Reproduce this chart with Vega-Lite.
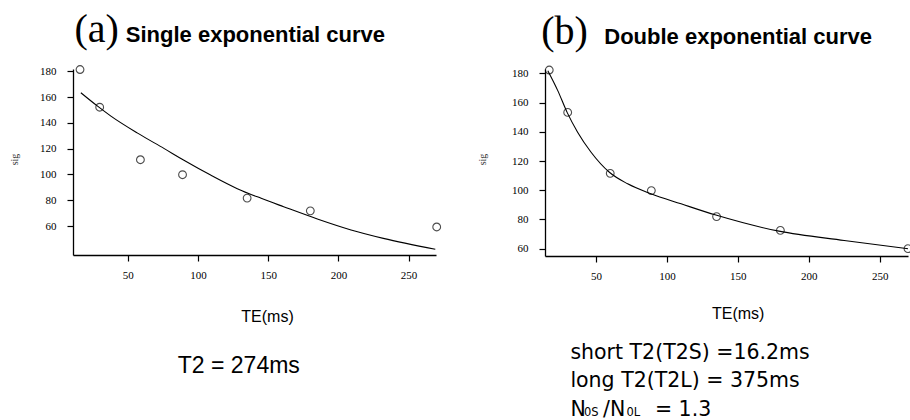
{
  "$schema": "https://vega.github.io/schema/vega-lite/v6.json",
  "background": "white",
  "padding": {"left": 9, "top": 10, "right": 0, "bottom": 0},
  "spacing": 109,
  "bounds": "flush",
  "config": {
    "view": {"stroke": null},
    "axis": {
      "grid": false,
      "domainColor": "black",
      "domainWidth": 1.3,
      "tickColor": "black",
      "tickWidth": 1.2,
      "tickSize": 6,
      "labelColor": "black",
      "labelFont": "Liberation Serif",
      "labelFontSize": 11,
      "labelOverlap": false,
      "titleColor": "black"
    }
  },
  "datasets": {
    "pointsA": [
      {"TE": 16, "SI": 181.3}, {"TE": 30, "SI": 152.1}, {"TE": 59, "SI": 111.4},
      {"TE": 89, "SI": 99.8}, {"TE": 135, "SI": 81.7}, {"TE": 180, "SI": 71.8}, {"TE": 270, "SI": 59.3}
    ],
    "pointsB": [
      {"TE": 17, "SI": 182.3}, {"TE": 30, "SI": 153.3}, {"TE": 60, "SI": 111.6},
      {"TE": 89, "SI": 99.8}, {"TE": 135, "SI": 82.0}, {"TE": 180, "SI": 72.5}, {"TE": 270, "SI": 60.0}
    ],
    "fitSingle": [
      {"TE": 16.6, "SI": 163.3}, {"TE": 28.5, "SI": 152.9}, {"TE": 38, "SI": 145.2},
      {"TE": 57, "SI": 132.0}, {"TE": 76, "SI": 120.0}, {"TE": 90, "SI": 111.0},
      {"TE": 109, "SI": 99.5}, {"TE": 128, "SI": 89.0}, {"TE": 145, "SI": 81.5},
      {"TE": 161, "SI": 75.0}, {"TE": 185, "SI": 65.5}, {"TE": 209, "SI": 57.0},
      {"TE": 232, "SI": 50.5}, {"TE": 269, "SI": 42.0}
    ],
    "fitDouble": [
      {"TE": 16, "SI": 181.8}, {"TE": 23, "SI": 168.2}, {"TE": 29.6, "SI": 153.3},
      {"TE": 37, "SI": 139.7}, {"TE": 46.5, "SI": 126.0}, {"TE": 59.4, "SI": 112.3},
      {"TE": 72.3, "SI": 104.4}, {"TE": 88.7, "SI": 97.6}, {"TE": 110, "SI": 90.7},
      {"TE": 134.5, "SI": 83.0}, {"TE": 179, "SI": 72.0}, {"TE": 225, "SI": 65.6},
      {"TE": 270, "SI": 60.0}
    ]
  },
  "hconcat": [
    {
      "width": 363,
      "height": 186,
      "layer": [
        {
          "data": {"name": "fitSingle"},
          "mark": {"type": "line", "color": "black", "strokeWidth": 1.1, "interpolate": "monotone"},
          "encoding": {
            "x": {
              "field": "TE", "type": "quantitative",
              "scale": {"domain": [11, 269.5], "nice": false, "zero": false},
              "axis": {
                "title": "TE(ms)", "values": [50, 100, 150, 200, 250], "labelPadding": 8,
                "titleFont": "Liberation Sans", "titleFontSize": 16, "titleFontWeight": "normal",
                "titleX": 194, "titleY": 66, "titleBaseline": "alphabetic", "titleAlign": "center"
              }
            },
            "y": {
              "field": "SI", "type": "quantitative",
              "scale": {"domain": [37.6, 181.7], "nice": false, "zero": false},
              "axis": {
                "title": "sig", "values": [60, 80, 100, 120, 140, 160, 180], "tickCount": 7, "labelOverlap": false, "labelPadding": 11,
                "titleFont": "Liberation Serif", "titleFontSize": 10, "titleFontWeight": "normal", "titleColor": "#333333",
                "titleX": -58.5, "titleY": 90, "titleBaseline": "middle", "titleAlign": "center", "titleAngle": -90
              }
            }
          }
        },
        {
          "data": {"name": "pointsA"},
          "mark": {"type": "point", "shape": "circle", "filled": false, "color": "black", "size": 60, "strokeWidth": 1.1},
          "encoding": {
            "x": {"field": "TE", "type": "quantitative"},
            "y": {"field": "SI", "type": "quantitative"}
          }
        },
        {
          "data": {"values": [{"t": "(a)"}]},
          "mark": {"type": "text", "font": "Liberation Serif", "fontSize": 40, "align": "left", "baseline": "alphabetic", "color": "black"},
          "encoding": {
            "x": {"datum": 12, "type": "quantitative"},
            "y": {"datum": 202.6, "type": "quantitative"},
            "text": {"field": "t"}
          }
        },
        {
          "data": {"values": [{"t": "Single exponential curve"}]},
          "mark": {"type": "text", "font": "Liberation Sans", "fontWeight": "bold", "fontSize": 22, "align": "left", "baseline": "alphabetic", "color": "black"},
          "encoding": {
            "x": {"datum": 48.6, "type": "quantitative"},
            "y": {"datum": 202.6, "type": "quantitative"},
            "text": {"field": "t"}
          }
        },
        {
          "data": {"values": [{"t": "T2 = 274ms"}]},
          "mark": {"type": "text", "font": "Liberation Sans", "fontSize": 23, "align": "left", "baseline": "alphabetic", "color": "black"},
          "encoding": {
            "x": {"datum": 85.6, "type": "quantitative"},
            "y": {"datum": -54.2, "type": "quantitative"},
            "text": {"field": "t"}
          }
        }
      ]
    },
    {
      "width": 363,
      "height": 187,
      "layer": [
        {
          "data": {"name": "fitDouble"},
          "mark": {"type": "line", "color": "black", "strokeWidth": 1.1, "interpolate": "monotone"},
          "encoding": {
            "x": {
              "field": "TE", "type": "quantitative",
              "scale": {"domain": [14, 270], "nice": false, "zero": false},
              "axis": {
                "title": "TE(ms)", "values": [50, 100, 150, 200, 250], "labelPadding": 8,
                "titleFont": "Liberation Sans", "titleFontSize": 16, "titleFontWeight": "normal",
                "titleX": 192.7, "titleY": 62, "titleBaseline": "alphabetic", "titleAlign": "center"
              }
            },
            "y": {
              "field": "SI", "type": "quantitative",
              "scale": {"domain": [55, 183], "nice": false, "zero": false},
              "axis": {
                "title": "sig", "values": [60, 80, 100, 120, 140, 160, 180], "tickCount": 7, "labelOverlap": false, "labelPadding": 11,
                "titleFont": "Liberation Serif", "titleFontSize": 10, "titleFontWeight": "normal", "titleColor": "#333333",
                "titleX": -62.3, "titleY": 90, "titleBaseline": "middle", "titleAlign": "center", "titleAngle": -90
              }
            }
          }
        },
        {
          "data": {"name": "pointsB"},
          "mark": {"type": "point", "shape": "circle", "filled": false, "color": "black", "size": 60, "strokeWidth": 1.1},
          "encoding": {
            "x": {"field": "TE", "type": "quantitative"},
            "y": {"field": "SI", "type": "quantitative"}
          }
        },
        {
          "data": {"values": [{"t": "(b)"}]},
          "mark": {"type": "text", "font": "Liberation Serif", "fontSize": 40, "align": "left", "baseline": "alphabetic", "color": "black"},
          "encoding": {
            "x": {"datum": 11.3, "type": "quantitative"},
            "y": {"datum": 200.1, "type": "quantitative"},
            "text": {"field": "t"}
          }
        },
        {
          "data": {"values": [{"t": "Double exponential curve"}]},
          "mark": {"type": "text", "font": "Liberation Sans", "fontWeight": "bold", "fontSize": 22, "align": "left", "baseline": "alphabetic", "color": "black"},
          "encoding": {
            "x": {"datum": 55.8, "type": "quantitative"},
            "y": {"datum": 200.1, "type": "quantitative"},
            "text": {"field": "t"}
          }
        },
        {
          "data": {"values": [{"t": "short T2(T2S) =16.2ms"}]},
          "mark": {"type": "text", "font": "DejaVu Sans", "fontSize": 20.5, "align": "left", "baseline": "alphabetic", "color": "black"},
          "encoding": {
            "x": {"datum": 31.9, "type": "quantitative"},
            "y": {"datum": -15.5, "type": "quantitative"},
            "text": {"field": "t"}
          }
        },
        {
          "data": {"values": [{"t": "long T2(T2L) = 375ms"}]},
          "mark": {"type": "text", "font": "DejaVu Sans", "fontSize": 20.5, "align": "left", "baseline": "alphabetic", "color": "black"},
          "encoding": {
            "x": {"datum": 31.9, "type": "quantitative"},
            "y": {"datum": -35, "type": "quantitative"},
            "text": {"field": "t"}
          }
        },
        {
          "data": {"values": [{"t": "N"}]},
          "mark": {"type": "text", "font": "DejaVu Sans", "fontSize": 20.5, "align": "left", "baseline": "alphabetic", "color": "black"},
          "encoding": {
            "x": {"datum": 31.9, "type": "quantitative"},
            "y": {"datum": -54.5, "type": "quantitative"},
            "text": {"field": "t"}
          }
        },
        {
          "data": {"values": [{"t": "0S"}]},
          "mark": {"type": "text", "font": "DejaVu Sans", "fontSize": 11.5, "align": "left", "baseline": "alphabetic", "color": "black"},
          "encoding": {
            "x": {"datum": 41.5, "type": "quantitative"},
            "y": {"datum": -54.5, "type": "quantitative"},
            "text": {"field": "t"}
          }
        },
        {
          "data": {"values": [{"t": "/N"}]},
          "mark": {"type": "text", "font": "DejaVu Sans", "fontSize": 20.5, "align": "left", "baseline": "alphabetic", "color": "black"},
          "encoding": {
            "x": {"datum": 54.9, "type": "quantitative"},
            "y": {"datum": -54.5, "type": "quantitative"},
            "text": {"field": "t"}
          }
        },
        {
          "data": {"values": [{"t": "0L"}]},
          "mark": {"type": "text", "font": "DejaVu Sans", "fontSize": 11.5, "align": "left", "baseline": "alphabetic", "color": "black"},
          "encoding": {
            "x": {"datum": 71.5, "type": "quantitative"},
            "y": {"datum": -54.5, "type": "quantitative"},
            "text": {"field": "t"}
          }
        },
        {
          "data": {"values": [{"t": "= 1.3"}]},
          "mark": {"type": "text", "font": "DejaVu Sans", "fontSize": 20.5, "align": "left", "baseline": "alphabetic", "color": "black"},
          "encoding": {
            "x": {"datum": 91.5, "type": "quantitative"},
            "y": {"datum": -54.5, "type": "quantitative"},
            "text": {"field": "t"}
          }
        }
      ]
    }
  ]
}
